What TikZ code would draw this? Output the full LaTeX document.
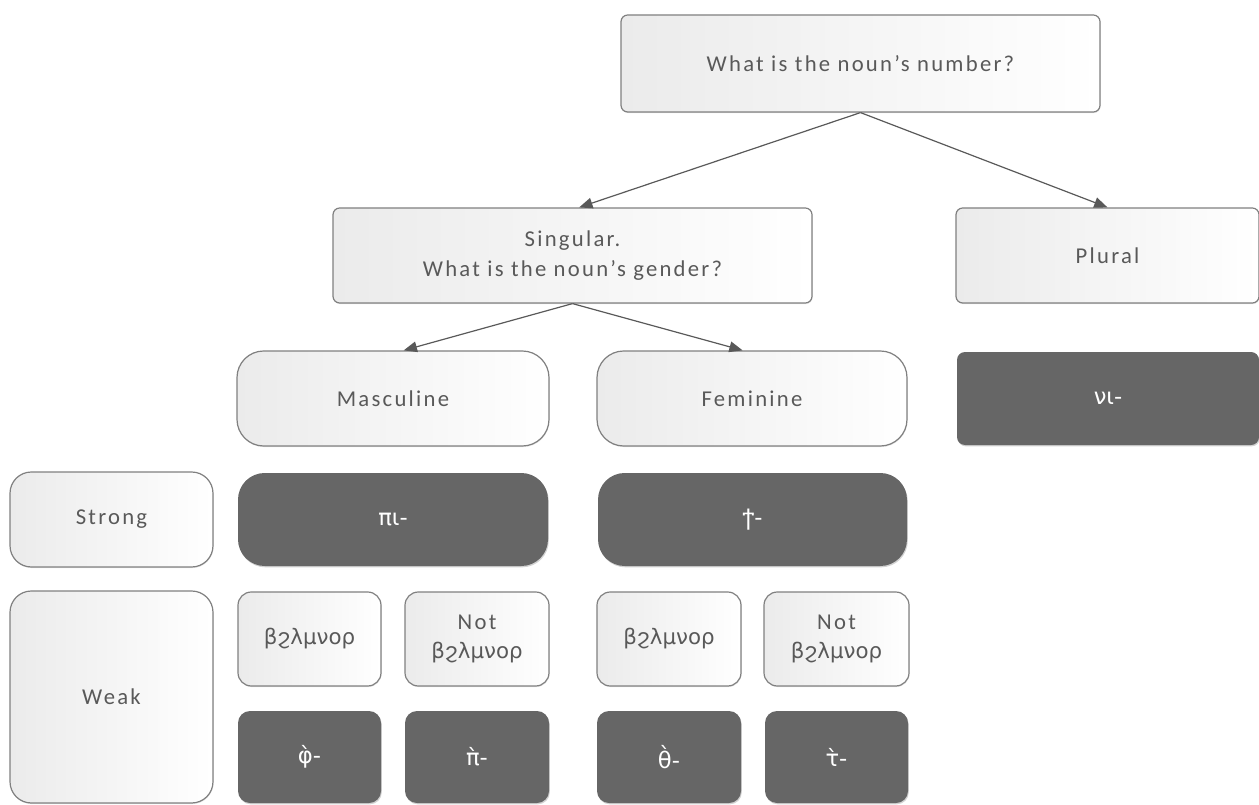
\documentclass[tikz,border=0pt]{standalone}
\usepackage{fontspec}
\setmainfont{Carlito}
\newfontfamily\lab[LetterSpace=10]{Carlito}
\newfontfamily\copt{DejaVu Sans}
\usetikzlibrary{arrows.meta,shadows}
\definecolor{txt}{HTML}{595959}
\definecolor{bord}{HTML}{808080}
\definecolor{darkfill}{HTML}{666666}
\definecolor{shadefill}{HTML}{EBEBEB}
\begin{document}
\begin{tikzpicture}[x=0.75pt,y=-0.75pt,
  lightbox/.style={draw=bord, line width=0.9pt, left color=shadefill, right color=white,
    text=txt, align=center, inner sep=2pt,
    font=\lab\fontsize{17}{22}\selectfont,
    drop shadow={shadow xshift=0.4pt, shadow yshift=-0.8pt, fill=black!25, opacity=0.4}},
  darkbox/.style={fill=darkfill, draw=none, text=white, align=center, inner sep=2pt,
    font=\copt\fontsize{17}{20}\selectfont,
    drop shadow={shadow xshift=0.6pt, shadow yshift=-1pt, fill=black!35, opacity=0.5}},
  conn/.style={draw=txt, line width=0.9pt, -{Triangle[length=10pt,width=8pt]}}
]
\newcommand{\coptword}{{\copt\fontsize{16}{22}\selectfont βϩλμνορ}}
\useasboundingbox (0,0) rectangle (1259,805);
\begin{scope}
\clip (0,0) rectangle (1259,805);
% top level
\node[lightbox, rounded corners=5pt, minimum width=359.25pt, minimum height=72.75pt] (q1) at (860.5,63.5) {What is the noun’s number?};
\node[lightbox, rounded corners=5pt, minimum width=359.25pt, minimum height=71.25pt] (sing) at (572.5,255.5) {Singular.\\What is the noun’s gender?};
\node[lightbox, rounded corners=5pt, minimum width=227.25pt, minimum height=71.25pt] (plur) at (1107.5,255.5) {Plural};
% gender
\node[lightbox, rounded corners=20pt, minimum width=234pt, minimum height=71.25pt] (masc) at (393,398.5) {Masculine};
\node[lightbox, rounded corners=20pt, minimum width=232.5pt, minimum height=71.25pt] (fem) at (752,398.5) {Feminine};
\node[darkbox, rounded corners=6pt, minimum width=226.5pt, minimum height=69.75pt] (ni) at (1108,398.5) {νι-};
% strong row
\node[lightbox, rounded corners=16pt, minimum width=152.25pt, minimum height=71.25pt] (strong) at (111.5,519.5) {Strong};
\node[darkbox, rounded corners=20pt, minimum width=232.5pt, minimum height=69.75pt] (pi) at (393,519.5) {πι-};
\node[darkbox, rounded corners=20pt, minimum width=231.75pt, minimum height=69.75pt] (ti) at (752.5,519.5) {ϯ-};
% weak rows
\node[lightbox, rounded corners=16pt, minimum width=152.25pt, minimum height=159pt] (weak) at (111.5,697) {Weak};
\node[lightbox, rounded corners=10pt, minimum width=107.25pt, minimum height=70.5pt] (b1) at (309.5,639) {\coptword};
\node[lightbox, rounded corners=10pt, minimum width=108pt, minimum height=70.5pt] (n1) at (477,639) {Not\\\coptword};
\node[lightbox, rounded corners=10pt, minimum width=108pt, minimum height=70.5pt] (b2) at (669,639) {\coptword};
\node[lightbox, rounded corners=10pt, minimum width=108.75pt, minimum height=70.5pt] (n2) at (836.5,639) {Not\\\coptword};
\node[darkbox, rounded corners=9pt, minimum width=107.25pt, minimum height=69pt] (d1) at (309.5,757) {φ̀-};
\node[darkbox, rounded corners=9pt, minimum width=108pt, minimum height=69pt] (d2) at (477,757) {π̀-};
\node[darkbox, rounded corners=9pt, minimum width=108pt, minimum height=69pt] (d3) at (669,757) {θ̀-};
\node[darkbox, rounded corners=9pt, minimum width=107.25pt, minimum height=69pt] (d4) at (836.5,757) {τ̀-};
% connectors
\draw[conn] (q1.south) -- ([xshift=5pt]sing.north);
\draw[conn] (q1.south) -- (plur.north);
\draw[conn] (sing.south) -- ([xshift=8pt]masc.north);
\draw[conn] (sing.south) -- ([xshift=-7pt]fem.north);
\end{scope}
\end{tikzpicture}
\end{document}
